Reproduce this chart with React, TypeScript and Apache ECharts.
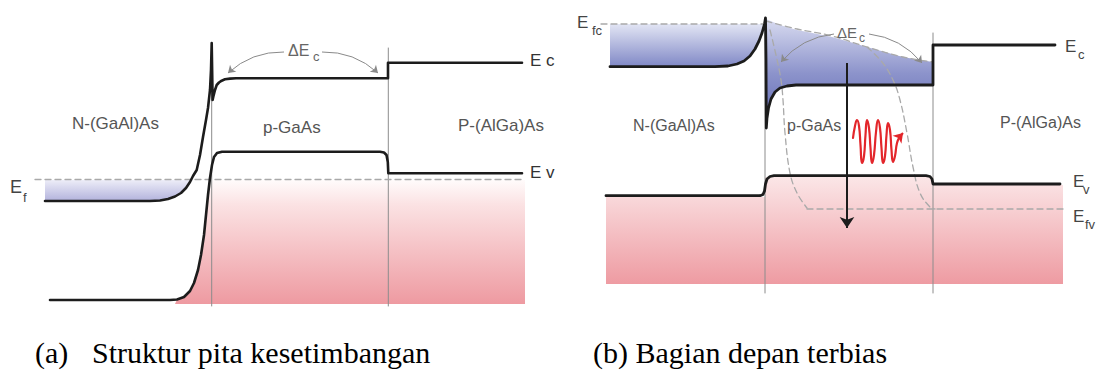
import React, { useEffect, useRef } from "react";
import * as echarts from "echarts";

// ---- Panel (a): equilibrium band structure (x, y in picture units, y grows downward) ----
const ecA = [[45,201],[150,201],[160,200.5],[168,199],[175,196.5],[181,193],[186,188],[190,182],[193,176],[196.7,170],[200,155],[203,137],[206,120],[208,108],[210,90],[211,70],[211.7,43],[212.3,80],[212.6,100],[213.3,96.7],[215,90],[216.7,85],[219,82.5],[221.7,80.7],[225,79.3],[230,78.6],[236,78.3],[388,78.3],[388,62.7],[522,62.7]];
const evA = [[50,300],[170,300],[177,299.5],[184,297],[190,291],[194,283],[198,270],[201,255],[204,235],[206,215],[208,195],[210,178],[212,165],[214,157],[217,153],[222,151.7],[380,151.7],[384,152.5],[386.5,155],[387.8,162],[388.3,173.3],[522,173.3]];
const efA = [[35,179.5],[522,179.5]];
const sepA1 = [[211.7,43],[211.7,306]];
const sepA2 = [[388.3,48],[388.3,306]];
const pinkA = [[175,304],[177,299.5],[184,297],[190,291],[194,283],[198,270],[201,255],[204,235],[206,215],[208,195],[209.5,180],[525,180],[525,304]];
const blueA = [[45,180],[193,180],[190,182],[186,188],[181,193],[175,196.5],[168,199],[160,200.5],[150,201],[45,201]];
const dEcArrowsA = [
  { from: [284,52], to: [228,73], bend: -0.2 },
  { from: [322,52], to: [378,73], bend: 0.2 },
];

// ---- Panel (b): forward bias ----
const ecB = [[610,66.7],[715,66.7],[728,66],[737,64],[744,61],[750,56],[755,49],[759,41],[762,33],[764.5,24],[765.5,18],[766,60],[766.3,128],[767,118],[768.5,108],[771,99],[775,92],[780,88],[787,86],[796,85],[933,85],[933,45],[1055,45]];
const evB = [[606,195.7],[760,195.7],[763,194.5],[764.5,191],[765.5,184],[767,179],[770,176.5],[774,175.7],[926,175.7],[930,176.5],[932,179],[933,184],[1060,184]];
const efcFlatB = [[601,24],[764,24]];
const efcCurveB = [[766,21],[797,29],[832,36],[867,47],[903,57],[933,62]];
const efvB = [[807,209],[1063,209]];
const loopLeftB = [[770,30],[776,55],[781,80],[783,100],[785,133],[790,173],[797,193],[807,208]];
const loopRightB = [[867,47],[882,62],[893,80],[900,100],[907,133],[913,167],[920,193],[930,207],[935,209]];
const sepB1 = [[765,18],[765,293]];
const sepB2 = [[933,33],[933,293]];
const pinkB = [[606,197],[765,197],[765,177],[933,177],[933,185],[1063,185],[1063,284],[606,284]];
const blueBN = [[610,24],[764,24],[762,33],[759,41],[755,49],[750,56],[744,61],[737,64],[728,66],[715,66.7],[610,66.7]];
const blueBP = [[766,19],[780,25],[797,30],[815,33.5],[832,37],[850,42],[867,47],[885,52],[903,57],[920,60],[933,62],[933,85],[796,85],[787,86],[780,88],[775,92],[771,99],[768.5,108],[767,118],[766.3,128]];
const dEcArrowsB = [
  { from: [834,34], to: [781,62], bend: -0.2 },
  { from: [869,34], to: [922,63], bend: 0.2 },
];
const recombArrow = [[847,63],[847,228]];
const photonWave = [[853,138],[855,126],[857,120],[859,126],[860.5,145],[862,163],[864,156],[865.5,135],[867,120],[869,128],[870.5,148],[872,163],[874,155],[876,132],[878,120],[880,128],[881.5,148],[883,163],[885,156],[886.5,135],[888,123],[890,130],[891.5,150],[893,162],[895,156],[897,143],[899.5,137]];
const photonHead = [[898.5,138],[903,133]];

const BLACK = "#1c1c1c";
const SEP = "#8c8c8c";
const DASH = "#a9a9a9";
const LABEL = "#555555";

const pinkStopsA = [
  { offset: 0, color: "#fffbfb" },
  { offset: 0.2, color: "#fbe2e3" },
  { offset: 1, color: "#ee9aa1" },
];
const pinkStopsB = [
  { offset: 0, color: "#fbe6e7" },
  { offset: 1, color: "#ee9ba2" },
];
const blueStopsA = [
  { offset: 0, color: "#ededf8" },
  { offset: 1, color: "#b2b2dc" },
];
const blueStopsBN = [
  { offset: 0, color: "#e2e5f4" },
  { offset: 1, color: "#8088c6" },
];
const blueStopsBP = [
  { offset: 0, color: "#d8dbf0" },
  { offset: 0.5, color: "#8c93cb" },
  { offset: 1, color: "#5f68b3" },
];

function poly(points: number[][], stops: any[]) {
  return {
    type: "custom",
    coordinateSystem: "cartesian2d",
    silent: true,
    z: 1,
    data: [[points[0][0], points[0][1]]],
    renderItem: (_p: any, api: any) => ({
      type: "polygon",
      shape: { points: points.map((p) => api.coord(p)) },
      style: { fill: new echarts.graphic.LinearGradient(0, 0, 0, 1, stops), stroke: "none" },
    }),
  };
}

function line(points: number[][], color: string, width: number, z = 3, dashed = false, smooth: any = false) {
  return {
    type: "line",
    data: points,
    showSymbol: false,
    symbol: "none",
    smooth,
    silent: true,
    z,
    lineStyle: { color, width, type: dashed ? [6, 4] : "solid", cap: "round", join: "round" },
  };
}

function arrows(list: { from: number[]; to: number[]; bend: number }[], color: string) {
  return list.map((a) => ({
    type: "lines",
    coordinateSystem: "cartesian2d",
    silent: true,
    z: 4,
    symbol: ["none", "arrow"],
    symbolSize: 7,
    lineStyle: { color, width: 1, curveness: a.bend, opacity: 1 },
    data: [{ coords: [a.from, a.to] }],
  }));
}

function txt(text: string, x: number, y: number, size: number, color = LABEL, family = "Liberation Sans, Arial, sans-serif") {
  return {
    type: "text",
    x,
    y,
    silent: true,
    z: 10,
    style: {
      text,
      fontSize: size,
      fontFamily: family,
      fill: color,
      align: "left",
      verticalAlign: "middle",
      textAlign: "left",
      textVerticalAlign: "middle",
    },
  };
}

export default function App() {
  const ref = useRef<HTMLDivElement>(null);
  useEffect(() => {
    if (!ref.current) return;
    const chart = echarts.init(ref.current, undefined, { renderer: "svg" });
    chart.setOption({
      animation: false,
      backgroundColor: "#ffffff",
      grid: { left: 0, top: 0, right: 0, bottom: 0 },
      xAxis: { type: "value", min: 0, max: 1103, show: false },
      yAxis: { type: "value", min: 0, max: 372, inverse: true, show: false },
      series: [
        poly(pinkA, pinkStopsA),
        poly(blueA, blueStopsA),
        poly(pinkB, pinkStopsB),
        poly(blueBN, blueStopsBN),
        poly(blueBP, blueStopsBP),
        line(sepA1, SEP, 1, 2),
        line(sepA2, SEP, 1, 2),
        line(sepB1, SEP, 1, 2),
        line(sepB2, SEP, 1, 2),
        line(efA, DASH, 1.3, 2, true),
        line(efcFlatB, DASH, 1.3, 2, true),
        line(efcCurveB, DASH, 1.3, 2, true, 0.4),
        line(efvB, DASH, 1.3, 2, true),
        line(loopLeftB, DASH, 1.3, 2, true, 0.4),
        line(loopRightB, DASH, 1.3, 2, true, 0.4),
        line(ecA, BLACK, 2.6),
        line(evA, BLACK, 2.6),
        line(ecB, BLACK, 2.8),
        line(evB, BLACK, 2.8),
        ...arrows(dEcArrowsA, "#8a8a8a"),
        ...arrows(dEcArrowsB, "#8a8a8a"),
        {
          type: "lines",
          coordinateSystem: "cartesian2d",
          silent: true,
          z: 5,
          symbol: ["none", "arrow"],
          symbolSize: 11,
          lineStyle: { color: BLACK, width: 2, opacity: 1 },
          data: [{ coords: recombArrow }],
        },
        line(photonWave, "#e3262b", 2.2, 6, false, 0.5),
        {
          type: "lines",
          coordinateSystem: "cartesian2d",
          silent: true,
          z: 6,
          symbol: ["none", "arrow"],
          symbolSize: 9,
          lineStyle: { color: "#e3262b", width: 2, opacity: 1 },
          data: [{ coords: photonHead }],
        },
      ],
      graphic: [
        // panel (a)
        txt("N-(GaAl)As", 72, 123, 17),
        txt("p-GaAs", 263, 127, 17),
        txt("P-(AlGa)As", 458, 125, 17),
        txt("E c", 530, 60, 17, "#333"),
        txt("E v", 530, 172, 17, "#333"),
        txt("E", 10, 187, 18, "#444"),
        txt("f", 23, 197, 13, "#444"),
        txt("ΔE", 288, 50, 16, "#666"),
        txt("c", 313, 56, 13, "#666"),
        // panel (b)
        txt("E", 577, 22, 17, "#444"),
        txt("fc", 592, 30, 13, "#444"),
        txt("N-(GaAl)As", 633, 125, 16),
        txt("p-GaAs", 787, 125, 16),
        txt("P-(AlGa)As", 1000, 122, 16),
        txt("ΔE", 837, 32, 15, "#666"),
        txt("c", 859, 38, 12, "#666"),
        txt("E", 1065, 46, 17, "#444"),
        txt("c", 1078, 54, 13, "#444"),
        txt("E", 1073, 181, 17, "#444"),
        txt("v", 1083, 189, 13, "#444"),
        txt("E", 1073, 216, 17, "#444"),
        txt("fv", 1085, 224, 13, "#444"),
        // captions
        txt("(a)", 35, 352, 30, "#000", "Liberation Serif, Times New Roman, serif"),
        txt("Struktur pita kesetimbangan", 92, 352, 30, "#000", "Liberation Serif, Times New Roman, serif"),
        txt("(b) Bagian depan terbias", 593, 352, 30, "#000", "Liberation Serif, Times New Roman, serif"),
      ],
    });
    return () => chart.dispose();
  }, []);
  return (
    <div
      ref={ref}
      style={{ position: "absolute", left: 0, top: 0, width: 1103, height: 372 }}
    />
  );
}
